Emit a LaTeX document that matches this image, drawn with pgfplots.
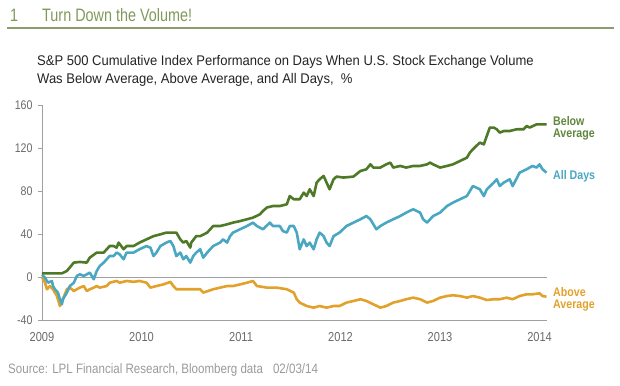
\documentclass[border=0pt]{standalone}
\usepackage{pgfplots}
\pgfplotsset{compat=1.18}
\usepackage{fontspec}
\setmainfont{Liberation Sans}[FakeStretch=0.85]
\newfontfamily\titlefont{Liberation Sans}[FakeStretch=0.8]
\newfontfamily\subfont{Liberation Sans}[FakeStretch=0.93]
\definecolor{cgreen}{HTML}{4E7A27}
\definecolor{cblue}{HTML}{4AA7C1}
\definecolor{corange}{HTML}{E2A12B}
\definecolor{ctitle}{HTML}{7F9A5A}
\definecolor{cline}{HTML}{8C9D6C}
\definecolor{caxis}{HTML}{A0A0A0}
\definecolor{ctick}{HTML}{6A6A6A}
\definecolor{csrc}{HTML}{9A9A9A}
\definecolor{csub}{HTML}{232323}
\begin{document}
\begin{tikzpicture}
\path[use as bounding box] (0,0) rectangle (620bp,386bp);
% header
\node[anchor=base west, inner sep=0, text=ctitle, font=\titlefont\fontsize{18bp}{20bp}\selectfont] at (10bp,364bp) {1};
\node[anchor=base west, inner sep=0, text=ctitle, font=\titlefont\fontsize{18bp}{20bp}\selectfont] at (42bp,364bp) {Turn Down the Volume!};
\draw[cline, line width=1.5bp] (7bp,358bp) -- (614bp,358bp);
\node[anchor=base west, inner sep=0, text=csub, font=\subfont\fontsize{14bp}{16bp}\selectfont] at (37bp,320bp) {S\&P 500 Cumulative Index Performance on Days When U.S. Stock Exchange Volume};
\node[anchor=base west, inner sep=0, text=csub, font=\subfont\fontsize{14bp}{16bp}\selectfont] at (37bp,302bp) {Was Below Average, Above Average, and All Days,\ \ \%};
% source
\node[anchor=base west, inner sep=0, text=csrc, font=\fontsize{13.6bp}{15bp}\selectfont] at (8bp,13bp) {Source: LPL Financial Research, Bloomberg data\hspace{10bp}02/03/14};
\begin{axis}[
  at={(42bp,66bp)}, anchor=south west,
  scale only axis, width=505bp, height=215bp,
  xmin=0, xmax=5.075, ymin=-40, ymax=160,
  axis x line*=bottom, axis y line*=left,
  axis line style={caxis, line width=0.9bp, -},
  xtick={0,1,2,3,4,5},
  xticklabels={2009,2010,2011,2012,2013,2014},
  x tick style={draw=none},
  tick align=outside,
  major tick length=4bp,
  ytick={-40,0,40,80,120,160},
  y tick style={caxis, line width=0.9bp},
  yticklabel style={text=ctick, font=\fontsize{12.5bp}{14bp}\selectfont, xshift=-2bp},
  xticklabel style={text=ctick, font=\fontsize{13bp}{14bp}\selectfont, yshift=-5bp},
  /pgf/number format/assume math mode=true,
  clip=false,
  every axis plot/.append style={line width=2.6bp, line join=round},
]
\draw[caxis, line width=0.9bp] (axis cs:0,0) -- (axis cs:5.075,0);
% Above average
\addplot[corange] coordinates {
(0.00,0)(0.03,-5.3)(0.05,-11.4)(0.08,-8.4)(0.11,-11.4)(0.15,-17.7)(0.18,-27)(0.21,-20.7)(0.25,-11.4)(0.28,-9.9)(0.32,-13)(0.35,-11.4)(0.38,-9.9)(0.42,-8.4)(0.45,-13)(0.48,-11.4)(0.52,-9.9)(0.55,-8.4)(0.58,-9.9)(0.65,-8.4)(0.68,-5.3)(0.75,-3.7)(0.78,-5.3)(0.85,-3.7)(0.92,-4.5)(0.98,-3.7)(1.05,-5.3)(1.09,-9.9)(1.15,-8.4)(1.22,-6.9)(1.29,-4.5)(1.32,-8.4)(1.35,-11.4)(1.45,-11.4)(1.59,-11.4)(1.62,-14.5)(1.72,-11.4)(1.79,-9.9)(1.86,-8.4)(1.92,-8.4)(1.99,-6.9)(2.06,-5.3)(2.12,-3.7)(2.16,-8.4)(2.26,-9.9)(2.36,-9.9)(2.46,-11.4)(2.53,-14.5)(2.56,-20.7)(2.59,-23.8)(2.66,-27)(2.73,-28.5)(2.79,-27)(2.86,-28.5)(2.93,-27)(2.99,-27)(3.06,-23.8)(3.13,-22.3)(3.20,-20.7)(3.26,-22.3)(3.33,-25.4)(3.40,-28.5)(3.46,-27)(3.53,-23.8)(3.60,-22.3)(3.66,-20.7)(3.73,-19.2)(3.80,-20.7)(3.87,-23.8)(3.93,-22.3)(4.00,-19.2)(4.07,-17.7)(4.13,-17)(4.20,-17.7)(4.27,-19.2)(4.33,-17.7)(4.40,-19.2)(4.47,-21.4)(4.54,-20.7)(4.60,-20.7)(4.67,-19.2)(4.73,-20.7)(4.80,-17.7)(4.87,-16.1)(4.93,-16.1)(5.00,-15.2)(5.03,-17.7)(5.07,-18.3)
};
% All days
\addplot[cblue] coordinates {
(0.00,2)(0.03,-0.6)(0.06,-5.3)(0.10,-3.7)(0.11,-8.4)(0.13,-11.4)(0.16,-14.5)(0.18,-20.7)(0.20,-25.4)(0.21,-20.7)(0.25,-14.5)(0.28,-8.4)(0.32,-5.3)(0.35,1)(0.38,2.5)(0.42,1)(0.45,2.5)(0.48,4.1)(0.52,-2.1)(0.55,5.6)(0.58,10.2)(0.62,13.4)(0.65,16.5)(0.68,19.5)(0.72,19.5)(0.75,22.7)(0.78,21.1)(0.82,16.5)(0.85,22.7)(0.92,22.7)(0.98,25.8)(1.05,28.8)(1.09,27.3)(1.12,19.5)(1.15,22.7)(1.19,28.8)(1.25,32)(1.29,33.5)(1.32,28.8)(1.35,19.5)(1.39,22.7)(1.42,16.5)(1.45,19.5)(1.49,13.4)(1.52,19.5)(1.55,22.7)(1.59,25.8)(1.62,18)(1.66,22.7)(1.72,28.8)(1.79,32)(1.82,35)(1.86,32)(1.89,38)(1.92,41.3)(1.99,44.4)(2.06,47.4)(2.12,50.6)(2.16,47.4)(2.22,44.4)(2.29,50.6)(2.32,47.4)(2.39,47.4)(2.42,42.8)(2.46,41.3)(2.49,47.4)(2.53,47.4)(2.56,41.3)(2.59,25.8)(2.63,35)(2.66,28.8)(2.69,32)(2.73,25.8)(2.76,35)(2.79,41.3)(2.83,38)(2.86,32)(2.89,28.8)(2.93,38)(2.99,41.3)(3.06,47.4)(3.13,50.6)(3.20,53.7)(3.26,56.7)(3.30,53.7)(3.36,44.4)(3.40,47.4)(3.46,50.6)(3.53,53.7)(3.60,56.7)(3.66,59.9)(3.73,63)(3.80,59.9)(3.83,53.7)(3.87,50.6)(3.93,56.7)(4.00,59.9)(4.07,66)(4.13,69.2)(4.20,72.3)(4.27,75.3)(4.33,84.6)(4.40,81.6)(4.44,75.3)(4.47,81.6)(4.54,87.8)(4.57,90.9)(4.60,84.6)(4.64,87.8)(4.70,90.9)(4.73,84.6)(4.80,97.1)(4.87,100.2)(4.93,103.3)(4.97,101.8)(5.00,104.8)(5.03,100.2)(5.07,97.1)
};
% Below average
\addplot[cgreen] coordinates {
(0.00,3.4)(0.20,3.4)(0.25,5.6)(0.32,13.4)(0.38,14)(0.45,13.4)(0.48,18)(0.55,22.7)(0.62,22.7)(0.68,28.8)(0.72,28.8)(0.75,27.3)(0.77,32)(0.82,25.8)(0.85,28.8)(0.92,28.8)(0.98,32)(1.05,35)(1.12,38)(1.19,39.7)(1.25,41.3)(1.32,41.3)(1.35,41.3)(1.39,35)(1.42,32)(1.45,33.5)(1.49,27.3)(1.50,32)(1.55,38)(1.59,38)(1.66,41.3)(1.72,47.4)(1.79,47.4)(1.86,49)(1.92,50.6)(1.99,52)(2.06,53.7)(2.12,55.2)(2.19,58.3)(2.22,61.4)(2.26,64.6)(2.32,66)(2.39,66)(2.46,67.6)(2.49,75.3)(2.53,72.3)(2.59,72.3)(2.63,78.5)(2.66,75.3)(2.69,81.6)(2.73,75.3)(2.76,87.8)(2.79,90.9)(2.83,94)(2.86,87.8)(2.89,81.6)(2.93,90.9)(2.96,93.4)(3.03,92.5)(3.13,93.4)(3.20,98.6)(3.26,100.2)(3.30,104.8)(3.33,101.8)(3.40,101.8)(3.46,104.8)(3.50,106.4)(3.53,101.8)(3.60,103.3)(3.66,101.8)(3.73,103.3)(3.80,103.3)(3.87,104.8)(3.90,106.4)(3.93,104.8)(4.00,101.8)(4.07,103.3)(4.13,104.8)(4.20,107.9)(4.27,111)(4.30,115.7)(4.33,118.8)(4.40,125)(4.44,123.4)(4.47,131.2)(4.50,139)(4.54,139)(4.57,137.4)(4.60,134.3)(4.64,135.8)(4.70,135.8)(4.77,137.4)(4.84,137.4)(4.87,140.5)(4.90,139)(4.97,142)(5.07,142)
};
\end{axis}
% series labels
\begin{scope}[every node/.style={anchor=base west, inner sep=0, font=\bfseries\fontsize{12.5bp}{12bp}\selectfont}]
\node[text=cgreen!90!white] at (553bp,260bp) {Below};
\node[text=cgreen!90!white] at (553bp,248bp) {Average};
\node[text=cblue] at (553bp,206bp) {All Days};
\node[text=corange] at (553bp,89bp) {Above};
\node[text=corange] at (553bp,77bp) {Average};
\end{scope}
\end{tikzpicture}
\end{document}
